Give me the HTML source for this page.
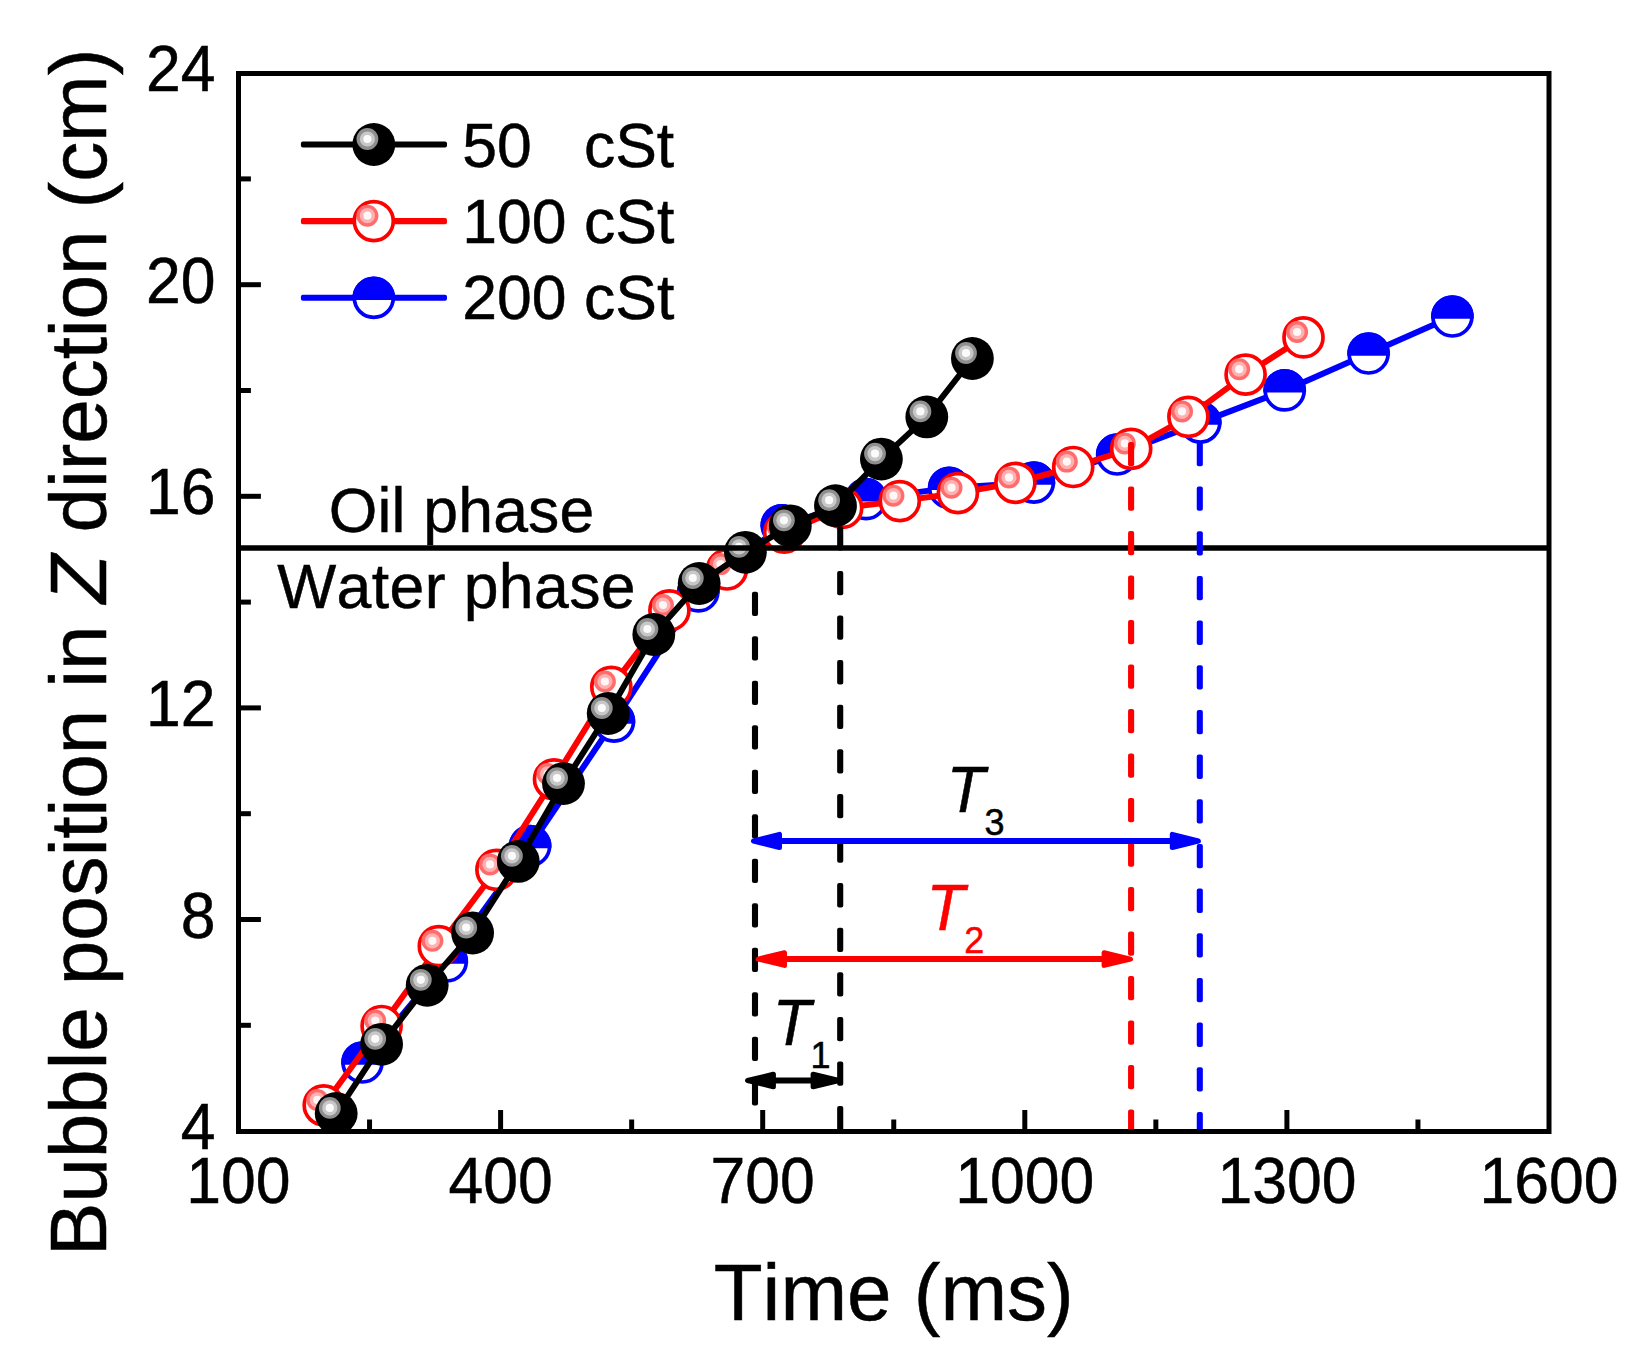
<!DOCTYPE html>
<html lang="en"><head><meta charset="utf-8"><title>Bubble position in Z direction vs time</title>
<style>html,body{margin:0;padding:0;background:#fff}body{width:1630px;height:1364px;overflow:hidden}svg{display:block}text{font-family:'Liberation Sans', Arial, Helvetica, sans-serif;fill:#000;stroke:#000;stroke-width:0.5px;font-kerning:none;font-variant-ligatures:none}</style>
</head><body>
<svg width="1630" height="1364" viewBox="0 0 1630 1364">
<rect x="0" y="0" width="1630" height="1364" fill="#fff"/>
<defs><clipPath id="plotclip"><rect x="238.5" y="73.5" width="1310.5" height="1060.5"/></clipPath></defs>
<g clip-path="url(#plotclip)">
<g id="series-200">
<polyline points="362.5,1062.5 446.8,961.5 530.1,846.0 614.0,721.6 698.4,591.4 781.8,525.4 866.0,499.2 949.2,487.9 1033.9,482.6 1117.2,454.5 1200.3,422.6 1284.7,390.4 1368.6,353.5 1452.4,316.5" fill="none" stroke="#00f" stroke-width="6.00" stroke-linejoin="round" stroke-linecap="round"/>
<circle cx="362.5" cy="1062.5" r="19.5" fill="#fff" stroke="#00f" stroke-width="3.7"/>
<path d="M341.21,1064.70 A21.4,21.4 0 1 1 383.79,1064.70 Z" fill="#00f"/>
<circle cx="446.8" cy="961.5" r="19.5" fill="#fff" stroke="#00f" stroke-width="3.7"/>
<path d="M425.51,963.70 A21.4,21.4 0 1 1 468.09,963.70 Z" fill="#00f"/>
<circle cx="530.1" cy="846.0" r="19.5" fill="#fff" stroke="#00f" stroke-width="3.7"/>
<path d="M508.81,848.20 A21.4,21.4 0 1 1 551.39,848.20 Z" fill="#00f"/>
<circle cx="614.0" cy="721.6" r="19.5" fill="#fff" stroke="#00f" stroke-width="3.7"/>
<path d="M592.71,723.80 A21.4,21.4 0 1 1 635.29,723.80 Z" fill="#00f"/>
<circle cx="698.4" cy="591.4" r="19.5" fill="#fff" stroke="#00f" stroke-width="3.7"/>
<path d="M677.11,593.60 A21.4,21.4 0 1 1 719.69,593.60 Z" fill="#00f"/>
<circle cx="781.8" cy="525.4" r="19.5" fill="#fff" stroke="#00f" stroke-width="3.7"/>
<path d="M760.51,527.60 A21.4,21.4 0 1 1 803.09,527.60 Z" fill="#00f"/>
<circle cx="866.0" cy="499.2" r="19.5" fill="#fff" stroke="#00f" stroke-width="3.7"/>
<path d="M844.71,501.40 A21.4,21.4 0 1 1 887.29,501.40 Z" fill="#00f"/>
<circle cx="949.2" cy="487.9" r="19.5" fill="#fff" stroke="#00f" stroke-width="3.7"/>
<path d="M927.91,490.10 A21.4,21.4 0 1 1 970.49,490.10 Z" fill="#00f"/>
<circle cx="1033.9" cy="482.6" r="19.5" fill="#fff" stroke="#00f" stroke-width="3.7"/>
<path d="M1012.61,484.80 A21.4,21.4 0 1 1 1055.19,484.80 Z" fill="#00f"/>
<circle cx="1117.2" cy="454.5" r="19.5" fill="#fff" stroke="#00f" stroke-width="3.7"/>
<path d="M1095.91,456.70 A21.4,21.4 0 1 1 1138.49,456.70 Z" fill="#00f"/>
<circle cx="1200.3" cy="422.6" r="19.5" fill="#fff" stroke="#00f" stroke-width="3.7"/>
<path d="M1179.01,424.80 A21.4,21.4 0 1 1 1221.59,424.80 Z" fill="#00f"/>
<circle cx="1284.7" cy="390.4" r="19.5" fill="#fff" stroke="#00f" stroke-width="3.7"/>
<path d="M1263.41,392.60 A21.4,21.4 0 1 1 1305.99,392.60 Z" fill="#00f"/>
<circle cx="1368.6" cy="353.5" r="19.5" fill="#fff" stroke="#00f" stroke-width="3.7"/>
<path d="M1347.31,355.70 A21.4,21.4 0 1 1 1389.89,355.70 Z" fill="#00f"/>
<circle cx="1452.4" cy="316.5" r="19.5" fill="#fff" stroke="#00f" stroke-width="3.7"/>
<path d="M1431.11,318.70 A21.4,21.4 0 1 1 1473.69,318.70 Z" fill="#00f"/>
</g>
<g id="series-100">
<polyline points="323.7,1105.3 381.6,1026.0 438.8,946.2 496.4,869.8 554.0,779.3 611.3,686.9 669.4,610.4 726.9,569.5 784.2,532.6 842.2,508.0 899.8,501.1 957.9,493.1 1015.4,482.8 1073.2,467.0 1131.2,448.8 1188.4,416.8 1245.6,374.6 1303.5,337.4" fill="none" stroke="#f00" stroke-width="6.00" stroke-linejoin="round" stroke-linecap="round"/>
<circle cx="323.7" cy="1105.3" r="19.5" fill="#fff" stroke="#f00" stroke-width="3.7"/>
<circle cx="317.3" cy="1099.9" r="11" fill="#ff6c6c"/>
<circle cx="317.3" cy="1099.9" r="7.6" fill="#ffb1b1"/>
<circle cx="317.3" cy="1099.9" r="4.1" fill="#fff6f6"/>
<circle cx="381.6" cy="1026.0" r="19.5" fill="#fff" stroke="#f00" stroke-width="3.7"/>
<circle cx="375.2" cy="1020.6" r="11" fill="#ff6c6c"/>
<circle cx="375.2" cy="1020.6" r="7.6" fill="#ffb1b1"/>
<circle cx="375.2" cy="1020.6" r="4.1" fill="#fff6f6"/>
<circle cx="438.8" cy="946.2" r="19.5" fill="#fff" stroke="#f00" stroke-width="3.7"/>
<circle cx="432.4" cy="940.8" r="11" fill="#ff6c6c"/>
<circle cx="432.4" cy="940.8" r="7.6" fill="#ffb1b1"/>
<circle cx="432.4" cy="940.8" r="4.1" fill="#fff6f6"/>
<circle cx="496.4" cy="869.8" r="19.5" fill="#fff" stroke="#f00" stroke-width="3.7"/>
<circle cx="490.0" cy="864.4" r="11" fill="#ff6c6c"/>
<circle cx="490.0" cy="864.4" r="7.6" fill="#ffb1b1"/>
<circle cx="490.0" cy="864.4" r="4.1" fill="#fff6f6"/>
<circle cx="554.0" cy="779.3" r="19.5" fill="#fff" stroke="#f00" stroke-width="3.7"/>
<circle cx="547.6" cy="773.9" r="11" fill="#ff6c6c"/>
<circle cx="547.6" cy="773.9" r="7.6" fill="#ffb1b1"/>
<circle cx="547.6" cy="773.9" r="4.1" fill="#fff6f6"/>
<circle cx="611.3" cy="686.9" r="19.5" fill="#fff" stroke="#f00" stroke-width="3.7"/>
<circle cx="604.9" cy="681.5" r="11" fill="#ff6c6c"/>
<circle cx="604.9" cy="681.5" r="7.6" fill="#ffb1b1"/>
<circle cx="604.9" cy="681.5" r="4.1" fill="#fff6f6"/>
<circle cx="669.4" cy="610.4" r="19.5" fill="#fff" stroke="#f00" stroke-width="3.7"/>
<circle cx="663.0" cy="605.0" r="11" fill="#ff6c6c"/>
<circle cx="663.0" cy="605.0" r="7.6" fill="#ffb1b1"/>
<circle cx="663.0" cy="605.0" r="4.1" fill="#fff6f6"/>
<circle cx="726.9" cy="569.5" r="19.5" fill="#fff" stroke="#f00" stroke-width="3.7"/>
<circle cx="720.5" cy="564.1" r="11" fill="#ff6c6c"/>
<circle cx="720.5" cy="564.1" r="7.6" fill="#ffb1b1"/>
<circle cx="720.5" cy="564.1" r="4.1" fill="#fff6f6"/>
<circle cx="784.2" cy="532.6" r="19.5" fill="#fff" stroke="#f00" stroke-width="3.7"/>
<circle cx="777.8" cy="527.2" r="11" fill="#ff6c6c"/>
<circle cx="777.8" cy="527.2" r="7.6" fill="#ffb1b1"/>
<circle cx="777.8" cy="527.2" r="4.1" fill="#fff6f6"/>
<circle cx="842.2" cy="508.0" r="19.5" fill="#fff" stroke="#f00" stroke-width="3.7"/>
<circle cx="835.8" cy="502.6" r="11" fill="#ff6c6c"/>
<circle cx="835.8" cy="502.6" r="7.6" fill="#ffb1b1"/>
<circle cx="835.8" cy="502.6" r="4.1" fill="#fff6f6"/>
<circle cx="899.8" cy="501.1" r="19.5" fill="#fff" stroke="#f00" stroke-width="3.7"/>
<circle cx="893.4" cy="495.7" r="11" fill="#ff6c6c"/>
<circle cx="893.4" cy="495.7" r="7.6" fill="#ffb1b1"/>
<circle cx="893.4" cy="495.7" r="4.1" fill="#fff6f6"/>
<circle cx="957.9" cy="493.1" r="19.5" fill="#fff" stroke="#f00" stroke-width="3.7"/>
<circle cx="951.5" cy="487.7" r="11" fill="#ff6c6c"/>
<circle cx="951.5" cy="487.7" r="7.6" fill="#ffb1b1"/>
<circle cx="951.5" cy="487.7" r="4.1" fill="#fff6f6"/>
<circle cx="1015.4" cy="482.8" r="19.5" fill="#fff" stroke="#f00" stroke-width="3.7"/>
<circle cx="1009.0" cy="477.4" r="11" fill="#ff6c6c"/>
<circle cx="1009.0" cy="477.4" r="7.6" fill="#ffb1b1"/>
<circle cx="1009.0" cy="477.4" r="4.1" fill="#fff6f6"/>
<circle cx="1073.2" cy="467.0" r="19.5" fill="#fff" stroke="#f00" stroke-width="3.7"/>
<circle cx="1066.8" cy="461.6" r="11" fill="#ff6c6c"/>
<circle cx="1066.8" cy="461.6" r="7.6" fill="#ffb1b1"/>
<circle cx="1066.8" cy="461.6" r="4.1" fill="#fff6f6"/>
<circle cx="1131.2" cy="448.8" r="19.5" fill="#fff" stroke="#f00" stroke-width="3.7"/>
<circle cx="1124.8" cy="443.4" r="11" fill="#ff6c6c"/>
<circle cx="1124.8" cy="443.4" r="7.6" fill="#ffb1b1"/>
<circle cx="1124.8" cy="443.4" r="4.1" fill="#fff6f6"/>
<circle cx="1188.4" cy="416.8" r="19.5" fill="#fff" stroke="#f00" stroke-width="3.7"/>
<circle cx="1182.0" cy="411.4" r="11" fill="#ff6c6c"/>
<circle cx="1182.0" cy="411.4" r="7.6" fill="#ffb1b1"/>
<circle cx="1182.0" cy="411.4" r="4.1" fill="#fff6f6"/>
<circle cx="1245.6" cy="374.6" r="19.5" fill="#fff" stroke="#f00" stroke-width="3.7"/>
<circle cx="1239.2" cy="369.2" r="11" fill="#ff6c6c"/>
<circle cx="1239.2" cy="369.2" r="7.6" fill="#ffb1b1"/>
<circle cx="1239.2" cy="369.2" r="4.1" fill="#fff6f6"/>
<circle cx="1303.5" cy="337.4" r="19.5" fill="#fff" stroke="#f00" stroke-width="3.7"/>
<circle cx="1297.1" cy="332.0" r="11" fill="#ff6c6c"/>
<circle cx="1297.1" cy="332.0" r="7.6" fill="#ffb1b1"/>
<circle cx="1297.1" cy="332.0" r="4.1" fill="#fff6f6"/>
</g>
<g id="series-50">
<polyline points="336.2,1113.4 381.6,1044.3 427.2,985.3 472.6,933.0 518.3,861.4 563.5,783.6 608.2,713.5 653.8,634.5 699.2,583.5 745.4,552.3 790.3,525.8 835.5,505.7 881.4,459.1 926.8,416.9 972.4,358.5" fill="none" stroke="#000" stroke-width="6.00" stroke-linejoin="round" stroke-linecap="round"/>
<circle cx="336.2" cy="1113.4" r="21.4" fill="#000"/>
<circle cx="329.8" cy="1107.9" r="10.9" fill="#8f8f8f"/>
<circle cx="329.8" cy="1107.9" r="7.6" fill="#c8c8c8"/>
<circle cx="329.8" cy="1107.9" r="4.1" fill="#fbfbfb"/>
<circle cx="381.6" cy="1044.3" r="21.4" fill="#000"/>
<circle cx="375.2" cy="1038.8" r="10.9" fill="#8f8f8f"/>
<circle cx="375.2" cy="1038.8" r="7.6" fill="#c8c8c8"/>
<circle cx="375.2" cy="1038.8" r="4.1" fill="#fbfbfb"/>
<circle cx="427.2" cy="985.3" r="21.4" fill="#000"/>
<circle cx="420.8" cy="979.8" r="10.9" fill="#8f8f8f"/>
<circle cx="420.8" cy="979.8" r="7.6" fill="#c8c8c8"/>
<circle cx="420.8" cy="979.8" r="4.1" fill="#fbfbfb"/>
<circle cx="472.6" cy="933.0" r="21.4" fill="#000"/>
<circle cx="466.2" cy="927.5" r="10.9" fill="#8f8f8f"/>
<circle cx="466.2" cy="927.5" r="7.6" fill="#c8c8c8"/>
<circle cx="466.2" cy="927.5" r="4.1" fill="#fbfbfb"/>
<circle cx="518.3" cy="861.4" r="21.4" fill="#000"/>
<circle cx="511.9" cy="855.9" r="10.9" fill="#8f8f8f"/>
<circle cx="511.9" cy="855.9" r="7.6" fill="#c8c8c8"/>
<circle cx="511.9" cy="855.9" r="4.1" fill="#fbfbfb"/>
<circle cx="563.5" cy="783.6" r="21.4" fill="#000"/>
<circle cx="557.1" cy="778.1" r="10.9" fill="#8f8f8f"/>
<circle cx="557.1" cy="778.1" r="7.6" fill="#c8c8c8"/>
<circle cx="557.1" cy="778.1" r="4.1" fill="#fbfbfb"/>
<circle cx="608.2" cy="713.5" r="21.4" fill="#000"/>
<circle cx="601.8" cy="708.0" r="10.9" fill="#8f8f8f"/>
<circle cx="601.8" cy="708.0" r="7.6" fill="#c8c8c8"/>
<circle cx="601.8" cy="708.0" r="4.1" fill="#fbfbfb"/>
<circle cx="653.8" cy="634.5" r="21.4" fill="#000"/>
<circle cx="647.4" cy="629.0" r="10.9" fill="#8f8f8f"/>
<circle cx="647.4" cy="629.0" r="7.6" fill="#c8c8c8"/>
<circle cx="647.4" cy="629.0" r="4.1" fill="#fbfbfb"/>
<circle cx="699.2" cy="583.5" r="21.4" fill="#000"/>
<circle cx="692.8" cy="578.0" r="10.9" fill="#8f8f8f"/>
<circle cx="692.8" cy="578.0" r="7.6" fill="#c8c8c8"/>
<circle cx="692.8" cy="578.0" r="4.1" fill="#fbfbfb"/>
<circle cx="745.4" cy="552.3" r="21.4" fill="#000"/>
<circle cx="739.0" cy="546.8" r="10.9" fill="#8f8f8f"/>
<circle cx="739.0" cy="546.8" r="7.6" fill="#c8c8c8"/>
<circle cx="739.0" cy="546.8" r="4.1" fill="#fbfbfb"/>
<circle cx="790.3" cy="525.8" r="21.4" fill="#000"/>
<circle cx="783.9" cy="520.3" r="10.9" fill="#8f8f8f"/>
<circle cx="783.9" cy="520.3" r="7.6" fill="#c8c8c8"/>
<circle cx="783.9" cy="520.3" r="4.1" fill="#fbfbfb"/>
<circle cx="835.5" cy="505.7" r="21.4" fill="#000"/>
<circle cx="829.1" cy="500.2" r="10.9" fill="#8f8f8f"/>
<circle cx="829.1" cy="500.2" r="7.6" fill="#c8c8c8"/>
<circle cx="829.1" cy="500.2" r="4.1" fill="#fbfbfb"/>
<circle cx="881.4" cy="459.1" r="21.4" fill="#000"/>
<circle cx="875.0" cy="453.6" r="10.9" fill="#8f8f8f"/>
<circle cx="875.0" cy="453.6" r="7.6" fill="#c8c8c8"/>
<circle cx="875.0" cy="453.6" r="4.1" fill="#fbfbfb"/>
<circle cx="926.8" cy="416.9" r="21.4" fill="#000"/>
<circle cx="920.4" cy="411.4" r="10.9" fill="#8f8f8f"/>
<circle cx="920.4" cy="411.4" r="7.6" fill="#c8c8c8"/>
<circle cx="920.4" cy="411.4" r="4.1" fill="#fbfbfb"/>
<circle cx="972.4" cy="358.5" r="21.4" fill="#000"/>
<circle cx="966.0" cy="353.0" r="10.9" fill="#8f8f8f"/>
<circle cx="966.0" cy="353.0" r="7.6" fill="#c8c8c8"/>
<circle cx="966.0" cy="353.0" r="4.1" fill="#fbfbfb"/>
</g>
</g>
<line x1="238.5" y1="548" x2="1549.0" y2="548" stroke="#000" stroke-width="5.4"/>
<g id="dashes">
<rect x="751.95" y="591.80" width="6.10" height="24.30" rx="2" ry="2" fill="#000"/>
<rect x="751.95" y="636.30" width="6.10" height="24.30" rx="2" ry="2" fill="#000"/>
<rect x="751.95" y="680.80" width="6.10" height="24.30" rx="2" ry="2" fill="#000"/>
<rect x="751.95" y="725.30" width="6.10" height="24.30" rx="2" ry="2" fill="#000"/>
<rect x="751.95" y="769.80" width="6.10" height="24.30" rx="2" ry="2" fill="#000"/>
<rect x="751.95" y="814.30" width="6.10" height="24.30" rx="2" ry="2" fill="#000"/>
<rect x="751.95" y="858.80" width="6.10" height="24.30" rx="2" ry="2" fill="#000"/>
<rect x="751.95" y="903.30" width="6.10" height="24.30" rx="2" ry="2" fill="#000"/>
<rect x="751.95" y="947.80" width="6.10" height="24.30" rx="2" ry="2" fill="#000"/>
<rect x="751.95" y="992.30" width="6.10" height="24.30" rx="2" ry="2" fill="#000"/>
<rect x="751.95" y="1036.80" width="6.10" height="24.30" rx="2" ry="2" fill="#000"/>
<rect x="751.95" y="1081.30" width="6.10" height="24.30" rx="2" ry="2" fill="#000"/>
<rect x="837.15" y="526.30" width="6.10" height="24.30" rx="2" ry="2" fill="#000"/>
<rect x="837.15" y="570.90" width="6.10" height="24.30" rx="2" ry="2" fill="#000"/>
<rect x="837.15" y="615.50" width="6.10" height="24.30" rx="2" ry="2" fill="#000"/>
<rect x="837.15" y="660.10" width="6.10" height="24.30" rx="2" ry="2" fill="#000"/>
<rect x="837.15" y="704.70" width="6.10" height="24.30" rx="2" ry="2" fill="#000"/>
<rect x="837.15" y="749.30" width="6.10" height="24.30" rx="2" ry="2" fill="#000"/>
<rect x="837.15" y="793.90" width="6.10" height="24.30" rx="2" ry="2" fill="#000"/>
<rect x="837.15" y="838.50" width="6.10" height="24.30" rx="2" ry="2" fill="#000"/>
<rect x="837.15" y="883.10" width="6.10" height="24.30" rx="2" ry="2" fill="#000"/>
<rect x="837.15" y="927.70" width="6.10" height="24.30" rx="2" ry="2" fill="#000"/>
<rect x="837.15" y="972.30" width="6.10" height="24.30" rx="2" ry="2" fill="#000"/>
<rect x="837.15" y="1016.90" width="6.10" height="24.30" rx="2" ry="2" fill="#000"/>
<rect x="837.15" y="1061.50" width="6.10" height="24.30" rx="2" ry="2" fill="#000"/>
<rect x="837.15" y="1106.10" width="6.10" height="24.30" rx="2" ry="2" fill="#000"/>
<rect x="1128.05" y="441.90" width="6.10" height="24.30" rx="2" ry="2" fill="#f00"/>
<rect x="1128.05" y="486.40" width="6.10" height="24.30" rx="2" ry="2" fill="#f00"/>
<rect x="1128.05" y="530.90" width="6.10" height="24.30" rx="2" ry="2" fill="#f00"/>
<rect x="1128.05" y="575.40" width="6.10" height="24.30" rx="2" ry="2" fill="#f00"/>
<rect x="1128.05" y="619.90" width="6.10" height="24.30" rx="2" ry="2" fill="#f00"/>
<rect x="1128.05" y="664.40" width="6.10" height="24.30" rx="2" ry="2" fill="#f00"/>
<rect x="1128.05" y="708.90" width="6.10" height="24.30" rx="2" ry="2" fill="#f00"/>
<rect x="1128.05" y="753.40" width="6.10" height="24.30" rx="2" ry="2" fill="#f00"/>
<rect x="1128.05" y="797.90" width="6.10" height="24.30" rx="2" ry="2" fill="#f00"/>
<rect x="1128.05" y="842.40" width="6.10" height="24.30" rx="2" ry="2" fill="#f00"/>
<rect x="1128.05" y="886.90" width="6.10" height="24.30" rx="2" ry="2" fill="#f00"/>
<rect x="1128.05" y="931.40" width="6.10" height="24.30" rx="2" ry="2" fill="#f00"/>
<rect x="1128.05" y="975.90" width="6.10" height="24.30" rx="2" ry="2" fill="#f00"/>
<rect x="1128.05" y="1020.40" width="6.10" height="24.30" rx="2" ry="2" fill="#f00"/>
<rect x="1128.05" y="1064.90" width="6.10" height="24.30" rx="2" ry="2" fill="#f00"/>
<rect x="1128.05" y="1109.40" width="6.10" height="22.10" rx="2" ry="2" fill="#f00"/>
<rect x="1196.75" y="441.90" width="6.10" height="24.30" rx="2" ry="2" fill="#00f"/>
<rect x="1196.75" y="486.57" width="6.10" height="24.30" rx="2" ry="2" fill="#00f"/>
<rect x="1196.75" y="531.24" width="6.10" height="24.30" rx="2" ry="2" fill="#00f"/>
<rect x="1196.75" y="575.91" width="6.10" height="24.30" rx="2" ry="2" fill="#00f"/>
<rect x="1196.75" y="620.58" width="6.10" height="24.30" rx="2" ry="2" fill="#00f"/>
<rect x="1196.75" y="665.25" width="6.10" height="24.30" rx="2" ry="2" fill="#00f"/>
<rect x="1196.75" y="709.92" width="6.10" height="24.30" rx="2" ry="2" fill="#00f"/>
<rect x="1196.75" y="754.59" width="6.10" height="24.30" rx="2" ry="2" fill="#00f"/>
<rect x="1196.75" y="799.26" width="6.10" height="24.30" rx="2" ry="2" fill="#00f"/>
<rect x="1196.75" y="843.93" width="6.10" height="24.30" rx="2" ry="2" fill="#00f"/>
<rect x="1196.75" y="888.60" width="6.10" height="24.30" rx="2" ry="2" fill="#00f"/>
<rect x="1196.75" y="933.27" width="6.10" height="24.30" rx="2" ry="2" fill="#00f"/>
<rect x="1196.75" y="977.94" width="6.10" height="24.30" rx="2" ry="2" fill="#00f"/>
<rect x="1196.75" y="1022.61" width="6.10" height="24.30" rx="2" ry="2" fill="#00f"/>
<rect x="1196.75" y="1067.28" width="6.10" height="24.30" rx="2" ry="2" fill="#00f"/>
<rect x="1196.75" y="1111.95" width="6.10" height="19.55" rx="2" ry="2" fill="#00f"/>
</g>
<line x1="779.0" y1="841.0" x2="1172.8" y2="841.0" stroke="#00f" stroke-width="6"/>
<path d="M753.4,841.0 L779.5,834.4 L779.5,847.6 Z" fill="#00f" stroke="#00f" stroke-width="5.0" stroke-linejoin="round"/>
<path d="M1198.4,841.0 L1172.3,834.4 L1172.3,847.6 Z" fill="#00f" stroke="#00f" stroke-width="5.0" stroke-linejoin="round"/>
<line x1="784.0" y1="959.1" x2="1104.6" y2="959.1" stroke="#f00" stroke-width="6"/>
<path d="M758.1,959.1 L784.5,952.8 L784.5,965.4 Z" fill="#f00" stroke="#f00" stroke-width="5.0" stroke-linejoin="round"/>
<path d="M1130.5,959.1 L1104.1,952.8 L1104.1,965.4 Z" fill="#f00" stroke="#f00" stroke-width="5.0" stroke-linejoin="round"/>
<line x1="772.9" y1="1080.5" x2="813.6" y2="1080.5" stroke="#000" stroke-width="6"/>
<path d="M747.5,1080.5 L773.4,1074.2 L773.4,1086.8 Z" fill="#000" stroke="#000" stroke-width="5.0" stroke-linejoin="round"/>
<path d="M839.0,1080.5 L813.1,1074.2 L813.1,1086.8 Z" fill="#000" stroke="#000" stroke-width="5.0" stroke-linejoin="round"/>
<g id="axes" stroke="#000" stroke-width="5.0" fill="none" stroke-linecap="butt">
<rect x="238.5" y="73.5" width="1310.5" height="1058.0"/>
<line x1="500.60" y1="1131.5" x2="500.60" y2="1110.0"/>
<line x1="762.70" y1="1131.5" x2="762.70" y2="1110.0"/>
<line x1="1024.80" y1="1131.5" x2="1024.80" y2="1110.0"/>
<line x1="1286.90" y1="1131.5" x2="1286.90" y2="1110.0"/>
<line x1="369.55" y1="1131.5" x2="369.55" y2="1119.5"/>
<line x1="631.65" y1="1131.5" x2="631.65" y2="1119.5"/>
<line x1="893.75" y1="1131.5" x2="893.75" y2="1119.5"/>
<line x1="1155.85" y1="1131.5" x2="1155.85" y2="1119.5"/>
<line x1="1417.95" y1="1131.5" x2="1417.95" y2="1119.5"/>
<line x1="238.5" y1="919.50" x2="260.9" y2="919.50"/>
<line x1="238.5" y1="707.90" x2="260.9" y2="707.90"/>
<line x1="238.5" y1="496.30" x2="260.9" y2="496.30"/>
<line x1="238.5" y1="284.70" x2="260.9" y2="284.70"/>
<line x1="238.5" y1="1025.30" x2="250.9" y2="1025.30"/>
<line x1="238.5" y1="813.70" x2="250.9" y2="813.70"/>
<line x1="238.5" y1="602.10" x2="250.9" y2="602.10"/>
<line x1="238.5" y1="390.50" x2="250.9" y2="390.50"/>
<line x1="238.5" y1="178.90" x2="250.9" y2="178.90"/>
</g>
<g id="ticklabels" font-size="62.5">
<text transform="translate(238.5,1202.9) scale(1,1.025)" text-anchor="middle">100</text>
<text transform="translate(500.6,1202.9) scale(1,1.025)" text-anchor="middle">400</text>
<text transform="translate(762.7,1202.9) scale(1,1.025)" text-anchor="middle">700</text>
<text transform="translate(1024.8,1202.9) scale(1,1.025)" text-anchor="middle">1000</text>
<text transform="translate(1286.9,1202.9) scale(1,1.025)" text-anchor="middle">1300</text>
<text transform="translate(1549.0,1202.9) scale(1,1.025)" text-anchor="middle">1600</text>
<text transform="translate(215.4,1149.1) scale(1,1.025)" text-anchor="end">4</text>
<text transform="translate(215.4,937.5) scale(1,1.025)" text-anchor="end">8</text>
<text transform="translate(215.4,725.9) scale(1,1.025)" text-anchor="end">12</text>
<text transform="translate(215.4,514.3) scale(1,1.025)" text-anchor="end">16</text>
<text transform="translate(215.4,302.7) scale(1,1.025)" text-anchor="end">20</text>
<text transform="translate(215.4,91.1) scale(1,1.025)" text-anchor="end">24</text>
</g>
<text x="893.7" y="1319.7" font-size="80.0" text-anchor="middle">Time (ms)</text>
<text transform="translate(106.3,652.4) rotate(-90)" font-size="80.0" letter-spacing="-0.06" text-anchor="middle">Bubble position in <tspan font-style="italic">Z</tspan> direction (cm)</text>
<text x="328.7" y="531.5" font-size="62.5" letter-spacing="0.2">Oil phase</text>
<text x="277.2" y="607.5" font-size="62.5" letter-spacing="0.41">Water phase</text>
<text transform="translate(946.7,811.7) scale(1,1.025)" font-size="62.5" font-style="italic" fill="#000" style="fill:#000;stroke:#000">T</text>
<text x="984.5" y="835.3" font-size="36.0" fill="#000" style="fill:#000;stroke:#000">3</text>
<text transform="translate(926.5,929.6) scale(1,1.025)" font-size="62.5" font-style="italic" fill="#f00" style="fill:#f00;stroke:#f00">T</text>
<text x="964.3" y="953.2" font-size="36.0" fill="#f00" style="fill:#f00;stroke:#f00">2</text>
<text transform="translate(772.8,1044.7) scale(1,1.025)" font-size="62.5" font-style="italic" fill="#000" style="fill:#000;stroke:#000">T</text>
<text x="810.6" y="1068.3" font-size="36.0" fill="#000" style="fill:#000;stroke:#000">1</text>
<g id="legend">
<rect x="300.9" y="141.45" width="146.1" height="6.1" rx="2" ry="2" fill="#000"/>
<circle cx="373.8" cy="144.5" r="21.4" fill="#000"/>
<circle cx="367.4" cy="139.0" r="10.9" fill="#8f8f8f"/>
<circle cx="367.4" cy="139.0" r="7.6" fill="#c8c8c8"/>
<circle cx="367.4" cy="139.0" r="4.1" fill="#fbfbfb"/>
<text x="462.3" y="166.5" font-size="62.5" xml:space="preserve" style="white-space:pre">50   cSt</text>
<rect x="300.9" y="218.05" width="146.1" height="6.1" rx="2" ry="2" fill="#f00"/>
<circle cx="373.8" cy="221.1" r="19.5" fill="#fff" stroke="#f00" stroke-width="3.7"/>
<circle cx="367.4" cy="215.7" r="11" fill="#ff6c6c"/>
<circle cx="367.4" cy="215.7" r="7.6" fill="#ffb1b1"/>
<circle cx="367.4" cy="215.7" r="4.1" fill="#fff6f6"/>
<text x="462.3" y="242.6" font-size="62.5" xml:space="preserve" style="white-space:pre">100 cSt</text>
<rect x="300.9" y="294.75" width="146.1" height="6.1" rx="2" ry="2" fill="#00f"/>
<circle cx="373.8" cy="297.8" r="19.5" fill="#fff" stroke="#00f" stroke-width="3.7"/>
<path d="M352.51,300.00 A21.4,21.4 0 1 1 395.09,300.00 Z" fill="#00f"/>
<text x="462.3" y="319.0" font-size="62.5" xml:space="preserve" style="white-space:pre">200 cSt</text>
</g>
</svg>
</body></html>
